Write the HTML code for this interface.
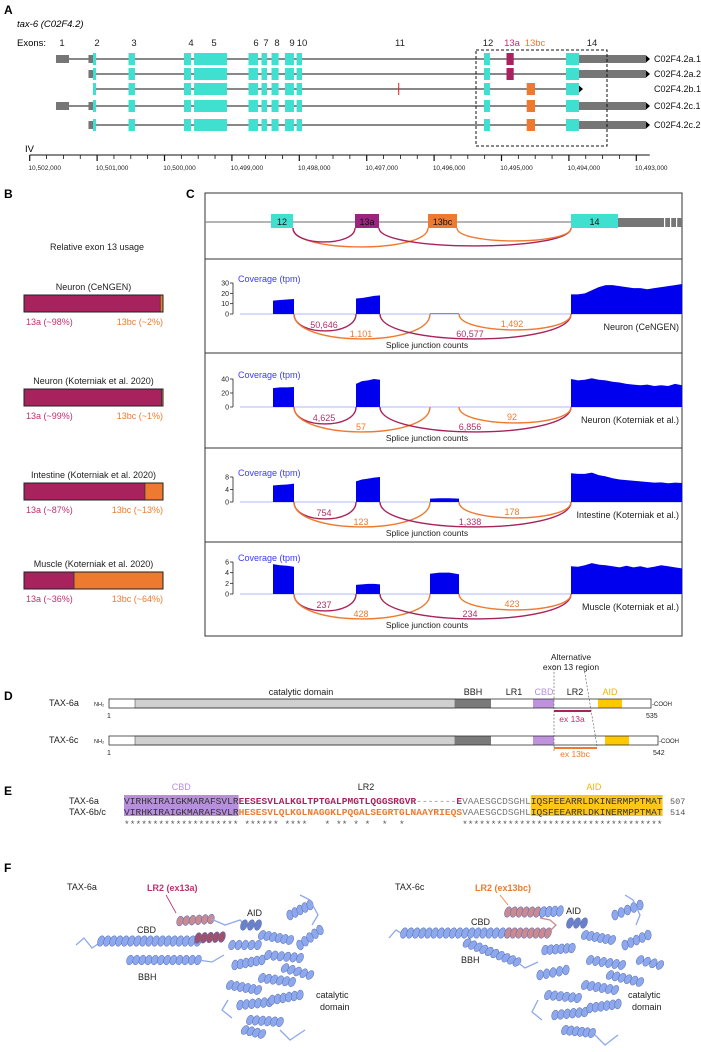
<!DOCTYPE html>
<html><head><meta charset="utf-8">
<style>
html,body{margin:0;padding:0;background:#fff;}
svg{display:block;font-family:"Liberation Sans",sans-serif;}
</style></head>
<body>
<svg id="fig" width="701" height="1052" viewBox="0 0 701 1052" xmlns="http://www.w3.org/2000/svg">
  <text x="4" y="14" font-size="12" font-weight="bold">A</text>
  <text x="4" y="198" font-size="12" font-weight="bold">B</text>
  <text x="186" y="198" font-size="12" font-weight="bold">C</text>
  <text x="4" y="700" font-size="12" font-weight="bold">D</text>
  <text x="4" y="795" font-size="12" font-weight="bold">E</text>
  <text x="4" y="872" font-size="12" font-weight="bold">F</text>

  <text x="17" y="27" font-size="9.5" font-style="italic">tax-6 (C02F4.2)</text>
  <text x="17" y="46" font-size="9.5">Exons:</text>
  <g id="gA"></g>
  <g id="gB"></g>
  <g id="gC"></g>
  <g id="gD"></g>
  <g id="gE"></g>
  <g id="gF"></g>
</svg>
<script>
const NS="http://www.w3.org/2000/svg";
function mk(parent,tag,attrs,text){const e=document.createElementNS(NS,tag);for(const k in attrs)e.setAttribute(k,attrs[k]);if(text!==undefined)e.textContent=text;parent.appendChild(e);return e;}
const CYAN="#40e0d0",MAG="#a8235e",ORA="#ee7a30",GRAY="#767676";

/* ================= Panel A data ================= */
const exonNames=["1","2","3","4","5","6","7","8","9","10","11","12","13a","13bc","14"];
const exonLabelPos=[10501521,10501001,10500453,10499607,10499266,10498643,10498494,10498331,10498108,10497960,10496506,10495200,10494844,10494503,10493657];
const exon1=[10501610,10501417];
const exon2gray=[10501128,10501061];
const exon2cyan=[10501061,10501016];
const sharedExons=[[10500534,10500438],[10499711,10499607],[10499562,10499073],[10498754,10498613],[10498561,10498479],[10498412,10498307],[10498212,10498079],[10498040,10497960],[10495260,10495171],[10494043,10493850]];
const exon13a=[10494926,10494819];
const exon13bc=[10494626,10494503];
const exon11=10496525;
const utr3=[10493850,10492856];
const transcripts=["C02F4.2a.1","C02F4.2a.2","C02F4.2b.1","C02F4.2c.1","C02F4.2c.2"];
const txHasExon1=[true,false,false,true,false];
const txHasGray2=[true,true,false,true,true];
const txAlt=["13a","13a","13bc","13bc","13bc"];
const txUtr=[true,true,false,true,true];
const axisTicks=[10502000,10501000,10500000,10499000,10498000,10497000,10496000,10495000,10494000,10493000];
const axisTickLabels=["10,502,000","10,501,000","10,500,000","10,499,000","10,498,000","10,497,000","10,496,000","10,495,000","10,494,000","10,493,000"];

(function(){
  const g=document.getElementById("gA");
  const xA=v=>29.7+(10502000-v)*0.0674;
  const rowY=[59,74,89,106,125];
  exonNames.forEach((n,i)=>{
    const t=mk(g,"text",{x:xA(exonLabelPos[i]),y:46,"font-size":9.5,"text-anchor":"middle",fill:n==="13a"?"#c0306e":(n==="13bc"?ORA:"#222")},n);
    
    
  });
  transcripts.forEach((tn,i)=>{
    const y=rowY[i];
    const row=mk(g,"g",{});
    
    
    const start=txHasExon1[i]?exon1[0]:(txHasGray2[i]?exon2gray[0]:exon2cyan[0]);
    const end=sharedExons[9][1];
    mk(row,"line",{x1:xA(start),x2:xA(end),y1:y,y2:y,stroke:"#111","stroke-width":1});
    const box=(a,b,h,c)=>mk(row,"rect",{x:xA(a),y:y-h/2,width:xA(b)-xA(a),height:h,fill:c});
    if(txHasExon1[i]) box(exon1[0],exon1[1],8,GRAY);
    if(txHasGray2[i]) box(exon2gray[0],exon2gray[1],8,GRAY);
    box(exon2cyan[0],exon2cyan[1],12,CYAN);
    sharedExons.forEach(e=>box(e[0],e[1],12,CYAN));
    if(txAlt[i]==="13a") box(exon13a[0],exon13a[1],12,MAG); else box(exon13bc[0],exon13bc[1],12,ORA);
    if(i===2) mk(row,"line",{x1:xA(exon11),x2:xA(exon11),y1:y-6,y2:y+6,stroke:"#e02020","stroke-width":1});
    let tipX;
    if(txUtr[i]){box(utr3[0],utr3[1],8,GRAY);tipX=xA(utr3[1]);}else tipX=xA(sharedExons[9][1]);
    mk(row,"path",{d:`M${tipX},${y-3.5} L${tipX+4},${y} L${tipX},${y+3.5}Z`,fill:"#000"});
    const lab=mk(g,"text",{x:654,y:y+3,"font-size":9,fill:"#111"},tn);
    
    
  });
  const box=mk(g,"rect",{x:476,y:50,width:131,height:96,fill:"none",stroke:"#111","stroke-dasharray":"3,2","stroke-width":1});
  
  
  const ax=mk(g,"g",{});
  
  
  mk(ax,"text",{x:25,y:152,"font-size":9.5},"IV");
  mk(ax,"line",{x1:xA(10502000),x2:xA(10492800),y1:155,y2:155,stroke:"#111","stroke-width":1});
  for(let v=10502000; v>=10493000; v-=250){
    const major=(v%1000===0);
    mk(ax,"line",{x1:xA(v),x2:xA(v),y1:155,y2:major?161:159,stroke:"#111","stroke-width":major?1.2:0.8});
  }
  axisTicks.forEach((v,i)=>{
    mk(ax,"text",{x:xA(v)+15,y:170,"font-size":6.5,"text-anchor":"middle",fill:"#222"},axisTickLabels[i]);
  });
})();

/* ================= Panel B data ================= */
const usageTissues=["Neuron (CeNGEN)","Neuron (Koterniak et al. 2020)","Intestine (Koterniak et al. 2020)","Muscle (Koterniak et al. 2020)"];
const usage13a=[98,99,87,36];
const usage13bcLabels=["2","1","13","64"];
(function(){
  const g=document.getElementById("gB");
  mk(g,"text",{x:97,y:250,"font-size":9,"text-anchor":"middle",fill:"#222"},"Relative exon 13 usage");
  const barTop=[295,389,483,572];
  const x0=24,w=139;
  usageTissues.forEach((t,i)=>{
    const y=barTop[i];
    const bg=mk(g,"g",{});
    
    
    mk(bg,"text",{x:x0+w/2,y:y-5,"font-size":9,"text-anchor":"middle",fill:"#222"},t);
    const wa=w*usage13a[i]/100;
    mk(bg,"rect",{x:x0,y:y,width:wa,height:17,fill:MAG});
    mk(bg,"rect",{x:x0+wa,y:y,width:w-wa,height:17,fill:ORA});
    mk(bg,"line",{x1:x0+wa,x2:x0+wa,y1:y,y2:y+17,stroke:"#333","stroke-width":0.8});
    mk(bg,"rect",{x:x0,y:y,width:w,height:17,fill:"none",stroke:"#222","stroke-width":1});
    mk(bg,"text",{x:x0+2,y:y+30,"font-size":9,fill:"#c0306e"},"13a (~"+usage13a[i]+"%)");
    mk(bg,"text",{x:x0+w,y:y+30,"font-size":9,"text-anchor":"end",fill:ORA},"13bc (~"+usage13bcLabels[i]+"%)");
  });
})();

/* ================= Panel C data ================= */
const panelNames=["Neuron (CeNGEN)","Neuron (Koterniak et al.)","Intestine (Koterniak et al.)","Muscle (Koterniak et al.)"];
const yMax=[30,40,8,6];
const yTicksCengen=[0,10,20,30];
const yTicksNeuronK=[0,20,40];
const yTicksIntestine=[0,4,8];
const yTicksMuscle=[0,2,4,6];
const cov12=[[13,13.5,14,14.5],[27,28,28,28.5],[5.3,5.5,5.6,5.9],[5.6,5.4,5.3,5.1]];
const cov13a=[[15,15.5,16.5,17.5,18],[33,37,38,40,39],[6.6,7.2,7.5,7.8,8],[1.7,1.8,1.9,1.9,1.8]];
const cov13bc=[[0.5,0.5,0.5,0.5],[0,0,0,0],[1.1,1.2,1.2,1.1],[3.8,4,4,3.7]];
const cov14=[
 [19,19,20,23,26,28,28,27,26,25,25,24,25,26,27,28,29],
 [40,38,39,41,39,38,36,35,33,32,31,32,30,31,30,33,31],
 [9.2,9,9,9.4,8.6,8.2,7.6,7.2,7,6.8,6.6,6.4,6.2,6.3,6,6.2,6.1],
 [5.2,5.1,5.4,5.8,5.5,5.4,5.2,5,5.3,5,5.2,4.9,5.1,5.4,5.2,5,4.8]];
const jCounts=[["50,646","1,101","60,577","1,492"],["4,625","57","6,856","92"],["754","123","1,338","178"],["237","428","234","423"]];
(function(){
  const g=document.getElementById("gC");
  const L=205,R=682;
  const tops=[193,259,353,448,542,636];
  for(let i=0;i<5;i++){
    const r=mk(g,"rect",{x:L,y:tops[i],width:R-L,height:tops[i+1]-tops[i],fill:"none",stroke:"#333","stroke-width":1});
    
    
  }
  const ex={e12:[273,294],e13a:[356,380],e13bc:[430,459],e14:[571,682]};
  const tg=mk(g,"g",{});
  
  
  mk(tg,"line",{x1:L,x2:R,y1:222,y2:222,stroke:"#888","stroke-width":1.2});
  const tb=(a,b,c,lab)=>{mk(tg,"rect",{x:a,y:214,width:b-a,height:14,fill:c});mk(tg,"text",{x:(a+b)/2,y:225,"font-size":9,"text-anchor":"middle",fill:"#111"},lab);};
  tb(271,293,CYAN,"12");tb(355,379,"#9b2481","13a");tb(428,457,ORA,"13bc");tb(571,618,CYAN,"14");
  mk(tg,"rect",{x:618,y:218,width:64,height:9,fill:GRAY});
  [664,670,676].forEach(x=>mk(tg,"rect",{x:x,y:218,width:1.2,height:9,fill:"#fff"}));
  const arc=(p,x1,x2,y0,d,c)=>mk(p,"path",{d:`M${x1},${y0} C${x1},${y0+d*1.33} ${x2},${y0+d*1.33} ${x2},${y0}`,fill:"none",stroke:c,"stroke-width":1.4});
  arc(tg,293,428,228,19,ORA);arc(tg,293,355,228,14,MAG);arc(tg,379,571,228,18,MAG);arc(tg,457,571,228,13,ORA);
  const yTickSets=[yTicksCengen,yTicksNeuronK,yTicksIntestine,yTicksMuscle];
  const baseY=[314,407,502,594];
  const axH=[31,28,25,32];
  for(let p=0;p<4;p++){
    const pg=mk(g,"g",{});
    
    
    const y0=baseY[p],H=axH[p];
    const yS=v=>y0-v/yMax[p]*H;
    mk(pg,"text",{x:238,y:y0-H-1,"font-size":9,fill:"#3a3aff"},"Coverage (tpm)");
    mk(pg,"line",{x1:233,x2:233,y1:yS(yMax[p]),y2:y0,stroke:"#222","stroke-width":0.8});
    yTickSets[p].forEach(t=>{
      mk(pg,"line",{x1:230,x2:233,y1:yS(t),y2:yS(t),stroke:"#222","stroke-width":0.8});
      mk(pg,"text",{x:229,y:yS(t)+2.5,"font-size":7,"text-anchor":"end",fill:"#222"},String(t));
    });
    mk(pg,"line",{x1:240,x2:R,y1:y0,y2:y0,stroke:"#9aa0ff","stroke-width":0.8});
    const area=(rng,vals)=>{
      const n=vals.length;let d=`M${rng[0]},${y0}`;
      vals.forEach((v,k)=>{const x=rng[0]+(rng[1]-rng[0])*k/(n-1);d+=` L${x},${yS(v)}`;});
      d+=` L${rng[1]},${y0}Z`;
      const a=mk(pg,"path",{d:d,fill:"#0000ee"});
      
      
    };
    area(ex.e12,cov12[p]);area(ex.e13a,cov13a[p]);area(ex.e13bc,cov13bc[p]);area(ex.e14,cov14[p]);
    arc(pg,294,356,y0,17,MAG);arc(pg,294,430,y0,25,ORA);arc(pg,380,571,y0,25,MAG);arc(pg,459,571,y0,16,ORA);
    const c=jCounts[p];
    mk(pg,"text",{x:324,y:y0+14,"font-size":9,"text-anchor":"middle",fill:"#b0306a"},c[0]);
    mk(pg,"text",{x:361,y:y0+23,"font-size":9,"text-anchor":"middle",fill:ORA},c[1]);
    mk(pg,"text",{x:470,y:y0+23,"font-size":9,"text-anchor":"middle",fill:"#b0306a"},c[2]);
    mk(pg,"text",{x:512,y:y0+13,"font-size":9,"text-anchor":"middle",fill:ORA},c[3]);
    mk(pg,"text",{x:427,y:y0+34,"font-size":8.5,"text-anchor":"middle",fill:"#222"},"Splice junction counts");
    mk(pg,"text",{x:679,y:y0+16,"font-size":9,"text-anchor":"end",fill:"#222"},panelNames[p]);
  }
})();

/* ================= Panel D ================= */
(function(){
  const g=document.getElementById("gD");
  mk(g,"text",{x:571,y:660,"font-size":8.5,"text-anchor":"middle",fill:"#222"},"Alternative");
  mk(g,"text",{x:571,y:670,"font-size":8.5,"text-anchor":"middle",fill:"#222"},"exon 13 region");
  [["catalytic domain",301,"#222"],["BBH",473,"#222"],["LR1",514,"#222"],["CBD",544,"#b58ee0"],["LR2",575,"#222"],["AID",610,"#f0b400"]].forEach(a=>{
    mk(g,"text",{x:a[1],y:695,"font-size":9,"text-anchor":"middle",fill:a[2]},a[0]);
  });
  const prot=(y,name,end,aid,len)=>{
    const pg=mk(g,"g",{});
    
    
    mk(pg,"text",{x:49,y:y+7,"font-size":9,fill:"#222"},name);
    mk(pg,"text",{x:94,y:y+7,"font-size":5.5,fill:"#222"},"NH\u2082");
    mk(pg,"rect",{x:109,y:y,width:end-109,height:9,fill:"#fff"});
    mk(pg,"rect",{x:135,y:y,width:320,height:9,fill:"#d0d0d0",stroke:"#555","stroke-width":0.6});
    mk(pg,"rect",{x:455,y:y,width:36,height:9,fill:"#7a7a7a"});
    mk(pg,"rect",{x:533,y:y,width:21,height:9,fill:"#bf92de"});
    mk(pg,"rect",{x:aid,y:y,width:24,height:9,fill:"#ffc800"});
    mk(pg,"rect",{x:109,y:y,width:end-109,height:9,fill:"none",stroke:"#333","stroke-width":0.8});
    mk(pg,"text",{x:end+1,y:y+7,"font-size":6,fill:"#222"},"-COOH");
    mk(pg,"text",{x:109,y:y+19,"font-size":7,"text-anchor":"middle",fill:"#222"},"1");
    mk(pg,"text",{x:end-5,y:y+19,"font-size":7,fill:"#222"},String(len));
  };
  prot(699,"TAX-6a",651,598,535);
  prot(736,"TAX-6c",658,605,542);
  mk(g,"line",{x1:554,x2:591,y1:711,y2:711,stroke:MAG,"stroke-width":2});
  mk(g,"text",{x:572,y:722,"font-size":8.5,"text-anchor":"middle",fill:"#c0306e"},"ex 13a");
  mk(g,"line",{x1:554,x2:597,y1:748,y2:748,stroke:ORA,"stroke-width":2});
  mk(g,"text",{x:575,y:757,"font-size":8.5,"text-anchor":"middle",fill:ORA},"ex 13bc");
  mk(g,"line",{x1:554,x2:554,y1:665,y2:752,stroke:"#555","stroke-width":0.6,"stroke-dasharray":"2,1.5"});
  mk(g,"line",{x1:584,x2:597,y1:668,y2:746,stroke:"#555","stroke-width":0.6,"stroke-dasharray":"2,1.5"});
})();

/* ================= Panel E ================= */
const seqA="VIRHKIRAIGKMARAFSVLREESESVLALKGLTPTGALPMGTLQGGSRGVR-------EVAAESGCDSGHLIQSFEEARRLDKINERMPPTMAT";
const seqB="VIRHKIRAIGKMARAFSVLRHESESVLQLKGLNAGGKLPQGALSEGRTGLNAAYRIEQSVAAESGCDSGHLIQSFEEARRLDKINERMPPTMAT";
(function(){
  const g=document.getElementById("gE");
  const x0=124,cw=5.73;
  mk(g,"text",{x:x0+10*cw,y:790,"font-size":9,"text-anchor":"middle",fill:"#b58ee0"},"CBD");
  mk(g,"text",{x:366,y:790,"font-size":9,"text-anchor":"middle",fill:"#222"},"LR2");
  mk(g,"text",{x:x0+82*cw,y:790,"font-size":9,"text-anchor":"middle",fill:"#f0b400"},"AID");
  mk(g,"rect",{x:x0,y:795,width:20*cw,height:21,fill:"#b78fdc"});
  mk(g,"rect",{x:x0+71*cw,y:795,width:23*cw,height:21,fill:"#ffc61a"});
  const rows=[[seqA,"TAX-6a",804,"507",MAG],[seqB,"TAX-6b/c",815,"514",ORA]];
  rows.forEach((r,ri)=>{
    const t=mk(g,"text",{x:69,y:r[2],"font-size":9,fill:"#222"},r[1]);
    
    
    const s=r[0];
    for(let i=0;i<s.length;i++){
      let col="#777",fw="normal";
      if(i<20||i>=71) col="#333";
      else if(s[i]==="-") col="#888";
      else if(i<59 && (ri===1 || i<=50 || i===58)){col=r[4];fw="bold";}
      mk(g,"text",{x:x0+i*cw,y:r[2],"font-size":9.5,"font-family":"Liberation Mono, monospace",fill:col,"font-weight":fw},s[i]);
    }
    mk(g,"text",{x:670,y:r[2],"font-size":8.5,"font-family":"Liberation Mono, monospace",fill:"#555"},r[3]);
  });
  for(let i=0;i<seqA.length;i++){
    if(seqA[i]===seqB[i]) mk(g,"text",{x:x0+i*cw,y:827,"font-size":9.5,"font-family":"Liberation Mono, monospace",fill:"#555"},"*");
  }
})();

/* ================= Panel F ================= */
(function(){
  const g=document.getElementById("gF");
  const BL="#8da8ec",DB="#6a80c8",PK="#c98a92",PKD="#a0506a";
  const helix=(x1,y1,x2,y2,w,c)=>{
    const n=Math.max(2,Math.round(Math.hypot(x2-x1,y2-y1)/6));
    const ang=Math.atan2(y2-y1,x2-x1)*180/Math.PI;
    for(let i=0;i<=n;i++){const x=x1+(x2-x1)*i/n,y=y1+(y2-y1)*i/n;
      mk(g,"ellipse",{cx:x,cy:y,rx:3.2,ry:w/2,fill:c,stroke:"#5a6fb5","stroke-width":0.5,transform:`rotate(${ang+20} ${x} ${y})`});}
  };
  const loop=(pts,c)=>mk(g,"polyline",{points:pts.map(p=>p.join(",")).join(" "),fill:"none",stroke:c||BL,"stroke-width":1.3});
  mk(g,"text",{x:67,y:890,"font-size":9,fill:"#222"},"TAX-6a");
  mk(g,"text",{x:147,y:891,"font-size":9,"font-weight":"bold",fill:"#c0306e"},"LR2 (ex13a)");
  mk(g,"line",{x1:166,y1:895,x2:176,y2:913,stroke:"#c0306e","stroke-width":0.8});
  loop([[76,945],[84,938],[92,948],[101,942]]);
  helix(101,941,198,941,11,BL);
  helix(130,960,198,960,10,BL);
  loop([[198,960],[212,962],[224,955]]);
  helix(180,921,211,919,10,PK);
  helix(198,938,222,937,11,PKD);
  loop([[211,919],[225,925],[240,920],[245,925]]);
  helix(244,925,258,925,11,DB);
  mk(g,"text",{x:137,y:933,"font-size":9,fill:"#222"},"CBD");
  mk(g,"text",{x:138,y:980,"font-size":9,"fill":"#222"},"BBH");
  mk(g,"text",{x:247,y:916,"font-size":9,fill:"#222"},"AID");
  mk(g,"text",{x:316,y:998,"font-size":9,fill:"#222"},"catalytic");
  mk(g,"text",{x:320,y:1010,"font-size":9,fill:"#222"},"domain");
  const blobL=[[232,945,258,945],[262,935,290,940],[235,965,262,960],[268,955,300,958],[230,985,258,990],[262,978,292,982],[240,1005,270,1002],[272,1000,300,995],[250,1020,280,1022],[290,915,310,905],[285,968,310,975],[300,945,320,930],[245,1030,262,1034]];
  blobL.forEach(h=>helix(h[0],h[1],h[2],h[3],10,BL));
  loop([[300,895],[310,900],[318,915],[312,925]]);loop([[228,1000],[222,1010],[232,1018]]);loop([[280,1030],[290,1040],[305,1030]]);
  mk(g,"text",{x:395,y:890,"font-size":9,fill:"#222"},"TAX-6c");
  mk(g,"text",{x:475,y:891,"font-size":9,"font-weight":"bold",fill:ORA},"LR2 (ex13bc)");
  mk(g,"line",{x1:500,y1:895,x2:508,y2:905,stroke:ORA,"stroke-width":0.8});
  loop([[389,938],[396,930],[404,935]]);
  helix(404,933,508,933,11,BL);
  helix(508,933,548,933,11,PK);
  helix(508,912,543,912,11,PK);
  helix(543,912,560,911,11,BL);
  loop([[548,933],[556,925],[550,920],[540,918]],PK);
  helix(467,943,517,962,10,BL);
  loop([[517,962],[525,968],[538,962]]);
  helix(570,923,584,923,11,DB);
  mk(g,"text",{x:471,y:925,"font-size":9,fill:"#222"},"CBD");
  mk(g,"text",{x:461,y:963,"font-size":9,fill:"#222"},"BBH");
  mk(g,"text",{x:566,y:914,"font-size":9,fill:"#222"},"AID");
  mk(g,"text",{x:628,y:998,"font-size":9,fill:"#222"},"catalytic");
  mk(g,"text",{x:632,y:1010,"font-size":9,fill:"#222"},"domain");
  const blobR=[[545,950,572,948],[585,935,612,940],[540,975,566,970],[590,960,622,965],[548,995,578,998],[585,985,615,990],[555,1015,585,1012],[590,1008,618,1004],[565,1030,592,1033],[615,915,640,905],[610,975,640,982],[625,945,648,935],[640,960,660,965]];
  blobR.forEach(h=>helix(h[0],h[1],h[2],h[3],10,BL));
  loop([[625,895],[633,900],[640,915],[636,925]]);loop([[538,1000],[532,1012],[542,1020]]);loop([[595,1035],[605,1045],[618,1035]]);
})();
</script>
</body></html>
